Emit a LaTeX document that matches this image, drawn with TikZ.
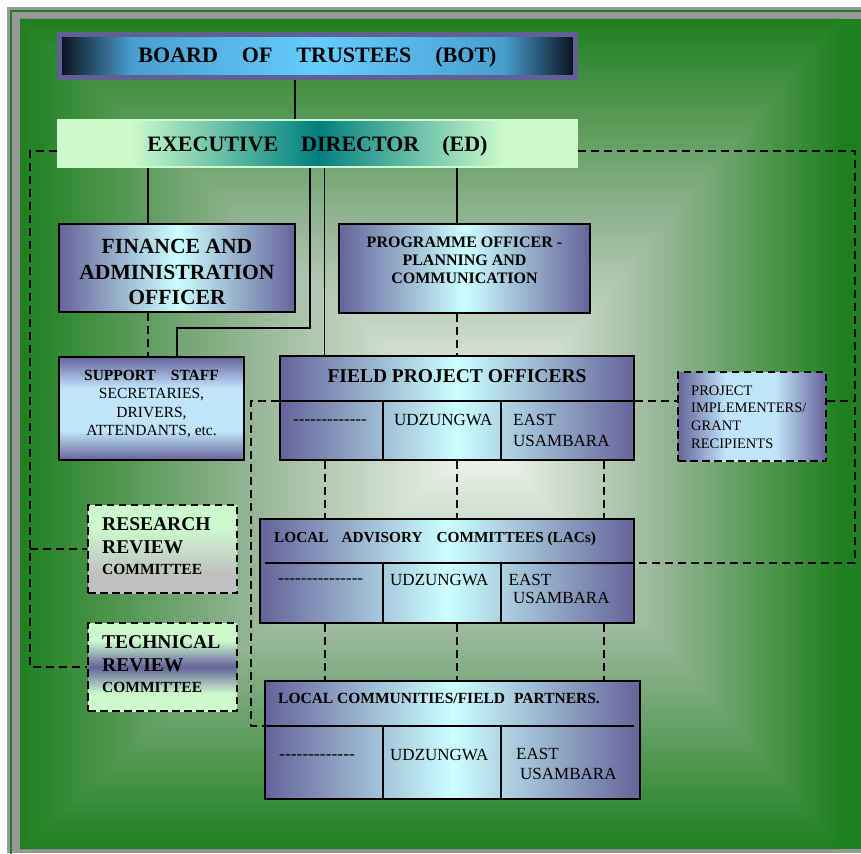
\documentclass[tikz,border=0pt]{standalone}
\usepackage{fontspec}
\setmainfont{Liberation Serif}
\usetikzlibrary{calc}

\definecolor{bggreen}{RGB}{30,128,30}
\definecolor{bgmid}{RGB}{150,182,150}
\definecolor{bgcenter}{RGB}{247,249,245}
\definecolor{framegray}{RGB}{152,152,152}
\definecolor{pur}{RGB}{100,100,154}
\definecolor{cyanl}{RGB}{204,255,255}
\definecolor{skyl}{RGB}{192,228,250}
\definecolor{botdark}{RGB}{8,16,24}
\definecolor{botmid}{RGB}{72,158,208}
\definecolor{botlight}{RGB}{102,204,255}
\definecolor{botframe}{RGB}{96,96,150}
\definecolor{lgreen}{RGB}{204,250,204}
\definecolor{tealc}{RGB}{0,128,128}
\definecolor{grayc}{RGB}{192,192,192}

\pgfdeclareverticalshading{bgTop}{100bp}{color(0bp)=(bgcenter); color(25bp)=(bgcenter); color(50bp)=(bgmid); color(75bp)=(bggreen); color(100bp)=(bggreen)}
\pgfdeclareverticalshading{bgBot}{100bp}{color(0bp)=(bggreen); color(25bp)=(bggreen); color(50bp)=(bgmid); color(75bp)=(bgcenter); color(100bp)=(bgcenter)}
\pgfdeclarehorizontalshading{bgLeft}{100bp}{color(0bp)=(bggreen); color(25bp)=(bggreen); color(50bp)=(bgmid); color(75bp)=(bgcenter); color(100bp)=(bgcenter)}
\pgfdeclarehorizontalshading{bgRight}{100bp}{color(0bp)=(bgcenter); color(25bp)=(bgcenter); color(50bp)=(bgmid); color(75bp)=(bggreen); color(100bp)=(bggreen)}

\pgfdeclarehorizontalshading{purH}{100bp}{color(0bp)=(pur); color(25bp)=(pur); color(50bp)=(cyanl); color(75bp)=(pur); color(100bp)=(pur)}
\pgfdeclarehorizontalshading{piH}{100bp}{color(0bp)=(pur); color(25bp)=(pur); color(41bp)=(skyl); color(58bp)=(skyl); color(75bp)=(pur); color(100bp)=(pur)}
\pgfdeclareverticalshading{ssV}{100bp}{color(0bp)=(pur); color(25bp)=(pur); color(39bp)=(skyl); color(60bp)=(skyl); color(75bp)=(pur); color(100bp)=(pur)}
\pgfdeclarehorizontalshading{botH}{100bp}{color(0bp)=(botdark); color(25bp)=(botdark); color(32bp)=(botmid); color(50bp)=(botlight); color(68bp)=(botmid); color(75bp)=(botdark); color(100bp)=(botdark)}
\pgfdeclarehorizontalshading{edH}{100bp}{color(0bp)=(lgreen); color(25bp)=(lgreen); color(32bp)=(lgreen); color(50bp)=(tealc); color(68bp)=(lgreen); color(75bp)=(lgreen); color(100bp)=(lgreen)}
\pgfdeclareverticalshading{rrV}{100bp}{color(0bp)=(grayc); color(25bp)=(grayc); color(36bp)=(grayc); color(62bp)=(lgreen); color(75bp)=(lgreen); color(100bp)=(lgreen)}
\pgfdeclareverticalshading{trV}{100bp}{color(0bp)=(lgreen); color(25bp)=(lgreen); color(35bp)=(lgreen); color(50bp)=(pur); color(65bp)=(lgreen); color(75bp)=(lgreen); color(100bp)=(lgreen)}

\newcommand\fs[1]{\fontsize{#1}{#1}\selectfont}
\newcommand\hyrun[1]{\ifnum#1>0 -\kern0pt\expandafter\hyrun\expandafter{\the\numexpr#1-1\relax}\fi}

\begin{document}
\begin{tikzpicture}[x=1pt,y=-1pt,
  pbox/.style={draw=black, line width=1.8pt, shade, shading=purH, inner sep=0pt},
  dbox/.style={draw=black, line width=1.6pt, dash pattern=on 7.5pt off 4.5pt, shade, inner sep=0pt},
  conn/.style={line width=1.6pt},
  dconn/.style={line width=1.6pt, dash pattern=on 8pt off 5pt},
  divh/.style={line width=1.8pt},
  divv/.style={line width=1.3pt},
  lbl/.style={inner sep=0pt, anchor=base},
  lblw/.style={inner sep=0pt, anchor=base west}]
\useasboundingbox (0,0) rectangle (861,853);

% frame and background
\fill[framegray] (7,7) rectangle (861,853);
\draw[bggreen, line width=1.5pt] (11,11) rectangle (900,900);
\begin{scope}
\clip (20,19) rectangle (861,849);
\fill[bggreen] (20,19) rectangle (861,849);
\begin{scope}
\clip (20,19) -- (28,19) -- (493,434) -- (28,849) -- (20,849) -- cycle;
\shade[shading=bgLeft] (20,19) rectangle (485,849);
\end{scope}
\begin{scope}
\clip (840,19) -- (832,19) -- (477,434) -- (832,849) -- (840,849) -- cycle;
\shade[shading=bgRight] (485,19) rectangle (840,849);
\end{scope}
\shade[shading=bgTop] (20,19) -- (840,19) -- (485,434) -- cycle;
\shade[shading=bgBot] (20,849) -- (840,849) -- (485,434) -- cycle;
\end{scope}

% helper coordinates
\coordinate (xT) at (295,0);
\coordinate (xA) at (148,0);
\coordinate (xB) at (310,0);
\coordinate (xC) at (324.5,0);
\coordinate (xD) at (457,0);
\coordinate (xE) at (177,0);
\coordinate (xL) at (30,0);
\coordinate (xR) at (855,0);
\coordinate (xM) at (251,0);
\coordinate (xS1) at (325,0);
\coordinate (xS3) at (604,0);
\coordinate (xc1) at (383,0);
\coordinate (xc2) at (501,0);
\coordinate (xM2) at (265,0);
\coordinate (xE2) at (634,0);
\coordinate (yE) at (0,151);
\coordinate (yK) at (0,328);
\coordinate (yF) at (0,401);
\coordinate (yL) at (0,563);
\coordinate (yC) at (0,726);

% boxes
\path node[draw=botframe, line width=5pt, shade, shading=botH, inner sep=0pt, minimum width=516pt, minimum height=43pt] (bot) at (317.5,56) {}
  node[draw=lgreen, line width=2pt, shade, shading=edH, inner sep=0pt, minimum width=519pt, minimum height=47pt] (ed) at (317.5,143.5) {}
  node[pbox, minimum width=236pt, minimum height=88pt] (fao) at (177,268) {}
  node[pbox, minimum width=251pt, minimum height=89pt] (po) at (464.5,268.5) {}
  node[pbox, shading=ssV, minimum width=185pt, minimum height=103pt] (ss) at (151.5,408.5) {}
  node[pbox, minimum width=354pt, minimum height=104pt] (fpo) at (457,408) {}
  node[dbox, shading=piH, minimum width=148pt, minimum height=89pt] (pi) at (752,416.5) {}
  node[dbox, shading=rrV, minimum width=149pt, minimum height=88pt] (rr) at (162.5,549) {}
  node[dbox, shading=trV, minimum width=149pt, minimum height=88pt] (tr) at (162.5,667) {}
  node[pbox, minimum width=374pt, minimum height=104pt] (lac) at (447,571) {}
  node[pbox, minimum width=375pt, minimum height=118pt] (lcfp) at (452.5,740) {};

% connectors
\draw[conn] (bot.south -| xT) -- (ed.north -| xT);
\draw[conn] (ed.south -| xA) -- (fao.north -| xA);
\draw[dconn] (fao.south -| xA) -- (ss.north -| xA);
\draw[conn] (ed.south -| xB) -- (xB |- yK) -- (xE |- yK) -- (ss.north -| xE);
\draw[conn] (ed.south -| xC) -- (fpo.north -| xC);
\draw[conn] (ed.south -| xD) -- (po.north -| xD);
\draw[dconn] (po.south -| xD) -- (fpo.north -| xD);
\draw[dconn] (ed.west |- yE) -- (xL |- yE) -- (xL |- tr.west) -- (tr.west);
\draw[dconn] (xL |- rr.west) -- (rr.west);
\draw[dconn] (ed.east |- yE) -- (xR |- yE) -- (xR |- yL) -- (lac.east |- yL);
\draw[dconn] (fpo.east |- yF) -- (pi.west |- yF);
\draw[dconn] (pi.east |- yF) -- (xR |- yF);
\draw[dconn] (fpo.west |- yF) -- (xM |- yF) -- (xM |- yC) -- (lcfp.west |- yC);
\foreach \xx in {xS1,xD,xS3}{
  \draw[dconn] (fpo.south -| \xx) -- (lac.north -| \xx);
  \draw[dconn] (lac.south -| \xx) -- (lcfp.north -| \xx);
}

% table dividers
\draw[divh] (fpo.west |- yF) -- (fpo.east |- yF);
\draw[divv] (xc1 |- yF) -- (fpo.south -| xc1);
\draw[divv] (xc2 |- yF) -- (fpo.south -| xc2);
\draw[divh] (xM2 |- yL) -- (lac.east |- yL);
\draw[divv] (xc1 |- yL) -- (lac.south -| xc1);
\draw[divv] (xc2 |- yL) -- (lac.south -| xc2);
\draw[divh] (lcfp.west |- yC) -- (xE2 |- yC);
\draw[divv] (xc1 |- yC) -- (lcfp.south -| xc1);
\draw[divv] (xc2 |- yC) -- (lcfp.south -| xc2);

% texts
\node[lbl, font=\fs{22}\bfseries] (tbot) at (317.5,63) {BOARD\hspace{24pt}OF\hspace{24pt}TRUSTEES\hspace{24pt}(BOT)};
\node[lbl, font=\fs{22}\bfseries] (ted) at (317.5,152) {EXECUTIVE\hspace{23pt}DIRECTOR\hspace{23pt}(ED)};

\node[lbl, font=\fs{21.6}\bfseries] (tfao1) at (177,253) {FINANCE AND};
\node[lbl, font=\fs{21.6}\bfseries] (tfao2) at (177,279) {ADMINISTRATION};
\node[lbl, font=\fs{21.6}\bfseries] (tfao3) at (177,304.5) {OFFICER};

\node[lbl, font=\fs{16}\bfseries] (tpo1) at (464.5,247) {PROGRAMME OFFICER -};
\node[lbl, font=\fs{16}\bfseries] (tpo2) at (464.5,265) {PLANNING AND};
\node[lbl, font=\fs{16}\bfseries] (tpo3) at (464.5,283) {COMMUNICATION};

\node[lbl, font=\fs{15.5}\bfseries] (tss1) at (151.5,380) {SUPPORT\hspace{15pt}STAFF};
\node[lbl, font=\fs{15.5}] (tss2) at (151.5,398) {SECRETARIES,};
\node[lbl, font=\fs{15.5}] (tss3) at (151.5,417) {DRIVERS,};
\node[lbl, font=\fs{15.5}] (tss4) at (151.5,435) {ATTENDANTS, etc.};

\node[lbl, font=\fs{19.5}\bfseries] (tfpo) at (457,382) {FIELD PROJECT OFFICERS};
\node[lblw, font=\fs{17}] (tfpoa) at (293,424) {\hyrun{13}};
\node[lblw, font=\fs{17}] (tfpob) at (394,425) {UDZUNGWA};
\node[lblw, font=\fs{17}] (tfpoc) at (513,425) {EAST};
\node[lblw, font=\fs{17}] (tfpod) at (513,446) {USAMBARA};

\node[lblw, font=\fs{14.5}] (tpi1) at (691,395) {PROJECT};
\node[lblw, font=\fs{14.5}] (tpi2) at (691,412.5) {IMPLEMENTERS/};
\node[lblw, font=\fs{14.5}] (tpi3) at (691,430) {GRANT};
\node[lblw, font=\fs{14.5}] (tpi4) at (691,448) {RECIPIENTS};

\node[lblw, font=\fs{19.5}\bfseries] (trr1) at (102,530) {RESEARCH};
\node[lblw, font=\fs{19.5}\bfseries] (trr2) at (102,553) {REVIEW};
\node[lblw, font=\fs{15.5}\bfseries] (trr3) at (102,574) {COMMITTEE};

\node[lblw, font=\fs{19.5}\bfseries] (ttr1) at (102,648) {TECHNICAL};
\node[lblw, font=\fs{19.5}\bfseries] (ttr2) at (102,671) {REVIEW};
\node[lblw, font=\fs{15.5}\bfseries] (ttr3) at (102,692) {COMMITTEE};

\node[lblw, font=\fs{15.3}\bfseries] (tlac) at (274,542) {LOCAL\hspace{13pt}ADVISORY\hspace{14pt}COMMITTEES (LACs)};
\node[lblw, font=\fs{17}] (tlaca) at (278,583) {\hyrun{15}};
\node[lblw, font=\fs{17}] (tlacb) at (390,585) {UDZUNGWA};
\node[lblw, font=\fs{17}] (tlacc) at (508.5,585) {EAST};
\node[lblw, font=\fs{17}] (tlacd) at (513,603) {USAMBARA};

\node[lblw, font=\fs{15.5}\bfseries] (tlc) at (278,703) {LOCAL COMMUNITIES/FIELD\hspace{9pt}PARTNERS.};
\node[lblw, font=\fs{17.5}] (tlca) at (279,759) {\hyrun{13}};
\node[lblw, font=\fs{17}] (tlcb) at (390,760) {UDZUNGWA};
\node[lblw, font=\fs{17}] (tlcc) at (516,759) {EAST};
\node[lblw, font=\fs{17}] (tlcd) at (520,779) {USAMBARA};
\end{tikzpicture}
\end{document}
